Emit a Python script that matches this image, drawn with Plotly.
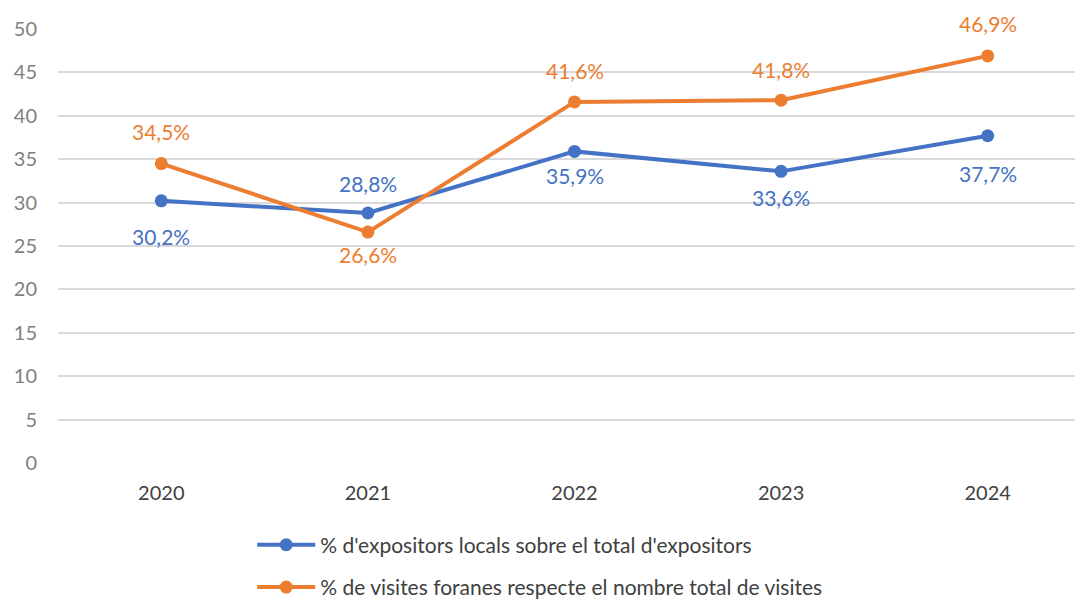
import plotly.graph_objects as go

years = ["2020", "2021", "2022", "2023", "2024"]
locals_pct = [30.2, 28.8, 35.9, 33.6, 37.7]
foranes_pct = [34.5, 26.6, 41.6, 41.8, 46.9]
locals_name = "% d'expositors locals sobre el total d'expositors"
foranes_name = "% de visites foranes respecte el nombre total de visites"

BLUE = "#4472C4"
ORANGE = "#ED7D31"
FONT = "Lato, Open Sans, sans-serif"

# label offsets in px (positive = above the point, negative = below)
locals_shift = [-36, 30, -24, -26, -38]
foranes_shift = [32, -22, 31, 31, 32]


def fmt(v):
    return f"{v:.1f}%".replace(".", ",")


fig = go.Figure()
for name, vals, col, grp in [(locals_name, locals_pct, BLUE, "a"),
                             (foranes_name, foranes_pct, ORANGE, "b")]:
    fig.add_trace(go.Scatter(
        x=years, y=vals, name=name, mode="lines+markers",
        legendgroup=grp,
        line=dict(color=col, width=4),
        marker=dict(color=col, size=13),
    ))

# category axis: annotations placed by category index
for vals, shifts, col in [(locals_pct, locals_shift, BLUE),
                          (foranes_pct, foranes_shift, ORANGE)]:
    for i, (v, s) in enumerate(zip(vals, shifts)):
        fig.add_annotation(
            x=i, y=v, xref="x", yref="y", text=fmt(v), showarrow=False,
            yshift=s, font=dict(family=FONT, size=21, color=col),
        )

fig.update_layout(
    width=1083, height=604,
    paper_bgcolor="white", plot_bgcolor="white",
    margin=dict(l=50, r=0, t=21, b=149, autoexpand=False),
    font=dict(family=FONT, size=18, color="#595959"),
    showlegend=True,
    legend=dict(
        orientation="v",
        x=0.188, xanchor="left", y=-0.142, yanchor="top",
        traceorder="grouped", tracegroupgap=12,
        itemwidth=58,
        font=dict(family=FONT, size=21, color="#404040"),
        bgcolor="rgba(0,0,0,0)",
    ),
    xaxis=dict(
        type="category", range=[-0.5, 4.5],
        showgrid=False, zeroline=False, showline=False,
        tickfont=dict(family=FONT, size=20, color="#404040"),
        ticks="outside", ticklen=12, tickcolor="rgba(0,0,0,0)",
    ),
    yaxis=dict(
        range=[0, 50], dtick=5,
        showgrid=True, gridcolor="#D9D9D9", gridwidth=1.5,
        zeroline=False, showline=False,
        tickfont=dict(family=FONT, size=20, color="#7F7F7F"),
        ticks="outside", ticklen=16, tickcolor="rgba(0,0,0,0)",
    ),
)

fig.write_html("out.html")
